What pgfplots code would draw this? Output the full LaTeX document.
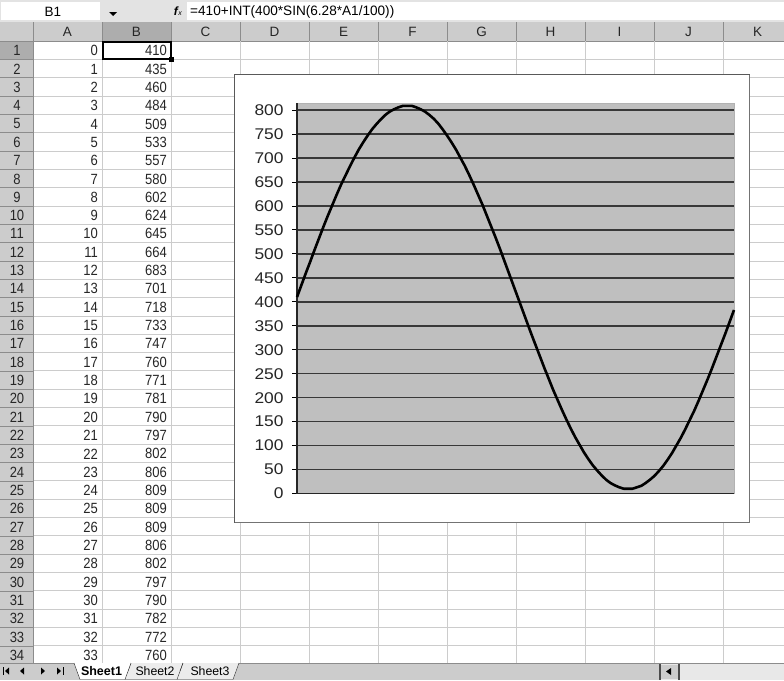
\documentclass[border=0pt]{standalone}
\usepackage{pgfplots}
\pgfplotsset{compat=1.18}
\usepackage{fontspec}
\setmainfont{Liberation Sans}
\newfontfamily\cellfontfam[FakeStretch=0.88]{Liberation Sans}
\newfontfamily\chartfontfam[FakeStretch=1.12]{Liberation Sans}
\newcommand\cellfont{\cellfontfam\fontsize{14.8}{14.8}\selectfont}
\newcommand\chartfont{\chartfontfam\fontsize{15.5}{15.5}\selectfont}
\definecolor{hdr}{gray}{0.80}
\definecolor{hdrsel}{gray}{0.68}
\definecolor{gridc}{gray}{0.80}
\definecolor{hdrline}{gray}{0.55}
\definecolor{plotbg}{gray}{0.75}

\pgfplotstableread{
x y
0 410
1 435
2 460
3 484
4 509
5 533
6 557
7 580
8 602
9 624
10 645
11 664
12 683
13 701
14 718
15 733
16 747
17 760
18 771
19 781
20 790
21 797
22 802
23 806
24 809
25 809
26 809
27 806
28 802
29 797
30 790
31 782
32 772
33 760
34 747
35 733
36 718
37 701
38 684
39 665
40 645
41 624
42 603
43 580
44 557
45 534
46 510
47 485
48 460
49 435
50 410
51 385
52 360
53 335
54 311
55 287
56 263
57 240
58 217
59 196
60 175
61 155
62 136
63 118
64 102
65 86
66 72
67 59
68 48
69 38
70 29
71 22
72 17
73 13
74 10
75 10
76 10
77 13
78 16
79 22
80 29
81 37
82 47
83 58
84 71
85 85
86 101
87 117
88 135
89 154
90 173
91 194
92 216
93 238
94 261
95 285
96 309
97 333
98 358
99 383
}\sinedata

\begin{document}
\begin{tikzpicture}
\path[use as bounding box] (0pt,0pt) rectangle (784pt,-680pt);
\begin{scope}[x=1pt,y=-1pt]
  \fill[white] (0,0) rectangle (784,680);
  % formula bar
  \fill[gray!22] (0,0) rectangle (784,22);
  \fill[white] (1,2) rectangle (100,20);
  \fill[white] (187,2) rectangle (784,20);
  \node[font=\fontsize{13.5}{13.5}\selectfont] at (53,11.5) {B1};
  \fill[black] (109,12) -- (117,12) -- (113,16) -- cycle;
  \node[font=\fontsize{12}{12}\selectfont] at (178,11) {\textit{\textbf{f}}\kern-0.5pt{\scriptsize\textit{x}}};
  \node[anchor=west, font=\fontsize{13.6}{13.6}\selectfont, inner sep=0pt] at (190,11.5) {=410+INT(400*SIN(6.28*A1/100))};
  \draw[hdrline] (0,22) -- (784,22);
  % header row and row header column
  \fill[hdr] (0,22) rectangle (784,41);
  \fill[hdrsel] (102,22) rectangle (171,41);
  \fill[hdr] (0,41) rectangle (33,663);
  \fill[hdrsel] (0,41) rectangle (33,59.33);
  % cell grid
  \foreach \i in {1,...,34} {
    \pgfmathsetmacro\yy{41+18.33*\i}
    \draw[gridc, line width=0.9pt] (33,\yy) -- (784,\yy);
    \draw[hdrline, line width=0.7pt] (0,\yy) -- (33,\yy);
  }
  \draw[hdrline, line width=0.8pt] (0,41) -- (784,41);
  \foreach \xx in {102,171,240,309,378,447,516,585,654,723} {
    \draw[gridc, line width=0.9pt] (\xx,41) -- (\xx,663);
    \draw[hdrline, line width=0.7pt] (\xx,22) -- (\xx,41);
  }
  \draw[hdrline, line width=0.8pt] (33,22) -- (33,663);
  % column letters
  \foreach \c/\xc in {A/67.5,B/136.5,C/205.5,D/274.5,E/343.5,F/412.5,G/481.5,H/550.5,I/619.5,J/688.5,K/757.5} {
    \node[font=\fontsize{13.5}{13.5}\selectfont, text=black!85] at (\xc,32) {\c};
  }
  % rows
  \foreach \v [count=\i] in {410,435,460,484,509,533,557,580,602,624,645,664,683,701,718,733,747,760,771,781,790,797,802,806,809,809,809,806,802,797,790,782,772,760} {
    \pgfmathsetmacro\yc{41+18.33*(\i-1)+9.6}
    \pgfmathtruncatemacro\a{\i-1}
    \node[anchor=east, inner sep=0pt, font=\cellfont, text=black!85] at (167,\yc) {\v};
    \node[anchor=east, inner sep=0pt, font=\cellfont, text=black!85] at (98,\yc) {\a};
    \node[inner sep=0pt, font=\cellfont, text=black!85] at (17,\yc) {\i};
  }
  % selected cell
  \draw[black, line width=2pt] (102.5,41.5) rectangle (170.5,58.8);
  \fill[black] (169,57) rectangle (174,62);
  % chart area
  \fill[white] (234,74) rectangle (749,522);
  \draw[black!65, line width=1pt] (234,74) rectangle (749,522);
  \draw[black!55, line width=1.4pt] (749.5,75) -- (749.5,522.5) -- (235,522.5);
  % sheet tab bar
  \fill[hdr] (0,663) rectangle (784,680);
  \draw[hdrline] (0,663) -- (784,663);
  \draw[black, line width=1pt] (3,667) -- (3,675);
  \fill[black] (5,671) -- (9,667.5) -- (9,674.5) -- cycle;
  \fill[black] (20,671) -- (24,667.5) -- (24,674.5) -- cycle;
  \fill[black] (45,671) -- (41,667.5) -- (41,674.5) -- cycle;
  \fill[black] (61,671) -- (57,667.5) -- (57,674.5) -- cycle;
  \draw[black, line width=1pt] (63,667) -- (63,675);
  \fill[gray!15] (125,679.5) -- (131,663) -- (183,663) -- (177,679.5) -- cycle;
  \fill[gray!15] (177,679.5) -- (183,663) -- (239,663) -- (233,679.5) -- cycle;
  \draw[black!80] (125,679.5) -- (177,679.5) -- (183,663);
  \draw[black!80] (177,679.5) -- (233,679.5) -- (239,663);
  \draw[black!80] (128,671) -- (131,663);
  \draw[black!80] (180,671) -- (183,663);
  \fill[white] (74,663) -- (80,679.5) -- (125,679.5) -- (131,663) -- cycle;
  \draw[black!85] (74,663) -- (80,679.5) -- (125,679.5) -- (131,663);
  \node[font=\bfseries\fontsize{12.5}{12.5}\selectfont] at (101.5,671.5) {Sheet1};
  \node[font=\fontsize{12.3}{12.3}\selectfont] at (155,671.5) {Sheet2};
  \node[font=\fontsize{12.3}{12.3}\selectfont] at (210,671.5) {Sheet3};
  % horizontal scrollbar
  \fill[gray!18] (660,664) rectangle (784,680);
  \fill[hdr] (661,665) rectangle (678,679);
  \draw[black!70, line width=1.2pt] (660,664) -- (660,680);
  \draw[black!70, line width=1.2pt] (679,664) -- (679,680);
  \fill[black] (666,671.5) -- (671,668) -- (671,675) -- cycle;
\end{scope}

\begin{axis}[
  at={(297pt,-493.5pt)}, anchor=south west,
  scale only axis, width=437pt, height=390.5pt,
  xmin=0, xmax=99, ymin=0, ymax=815,
  axis background/.style={fill=plotbg},
  axis line style={draw=none},
  xtick=\empty,
  ytick={0,50,...,800},
  ytick pos=left,
  tick align=outside,
  major tick length=5pt,
  tick style={black, line width=1pt},
  ymajorgrids,
  grid style={black!78, line width=1.4pt},
  yticklabel style={font=\chartfont, text=black!85, xshift=-5pt},
  /pgf/number format/assume math mode=true,
  clip=false,
]
\draw[gray!60, line width=0.8pt] (rel axis cs:0,1) -- (rel axis cs:1,1) -- (rel axis cs:1,0);
\draw[black!85, line width=1.3pt] (rel axis cs:0,0) -- (rel axis cs:0,1);
\draw[black!85, line width=1.3pt] (rel axis cs:0,0) -- (rel axis cs:1,0);
\addplot[black, line width=2.6pt, line join=round, mark=none] table[x=x, y=y] {\sinedata};
\end{axis}
\end{tikzpicture}
\end{document}
